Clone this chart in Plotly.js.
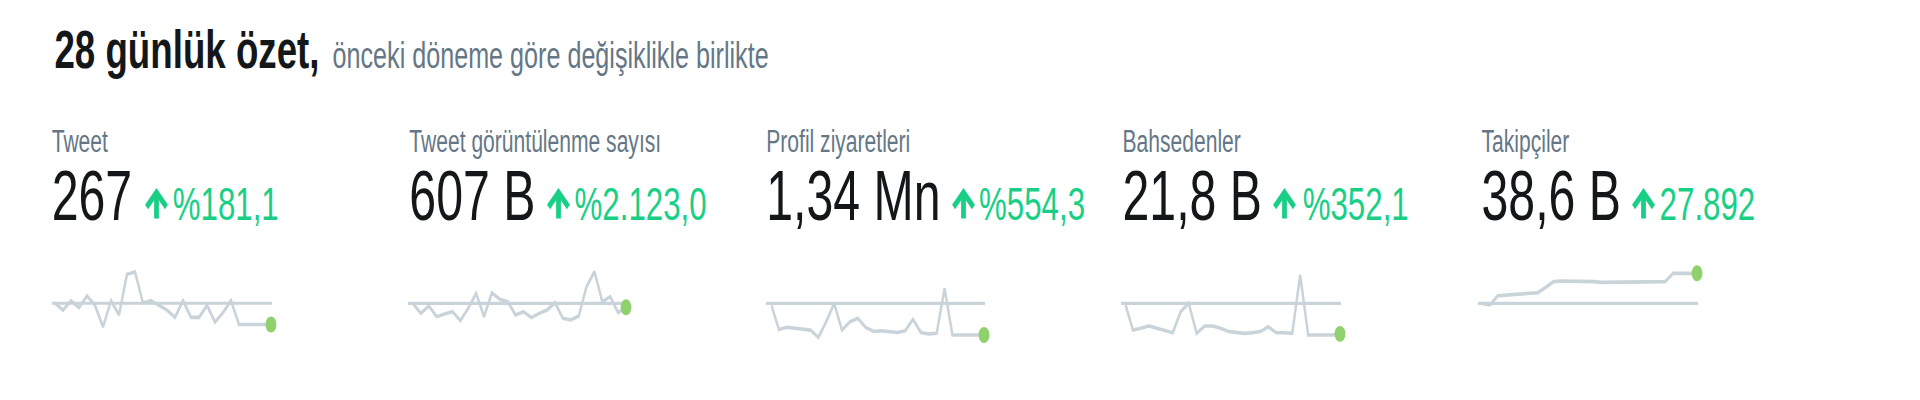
<!DOCTYPE html>
<html><head><meta charset="utf-8">
<script src="https://cdn.plot.ly/plotly-3.0.1.min.js"></script>
<style>
html,body{margin:0;padding:0;background:#fff;overflow:hidden;width:1920px;height:400px}
#chart{width:2824px;height:400px;transform:scaleX(0.67989);transform-origin:0 0}
</style>
</head><body><div id="chart"></div>
<script>
// ---- data ----
const titleMain = '28 günlük özet,';
const titleSub = 'önceki döneme göre değişiklikle birlikte';
const labels = ['Tweet', 'Tweet görüntülenme sayısı', 'Profil ziyaretleri', 'Bahsedenler', 'Takipçiler'];
const totals = ['267', '607 B', '1,34 Mn', '21,8 B', '38,6 B'];
const changes = ['%181,1', '%2.123,0', '%554,3', '%352,1', '27.892'];
const days = [1,2,3,4,5,6,7,8,9,10,11,12,13,14,15,16,17,18,19,20,21,22,23,24,25,26,27,28];
const tweets = [12,9,13,10,15,11,2,13,7,24,25,12,13,11,9,6,13,6,6,11,4,8,13,3,3,3,3,3];
const views = [24.3,16.5,22.6,13.8,16.0,17.9,10.5,20.7,33.1,13.8,33.6,28.1,26.2,15.2,17.9,13.0,16.5,19.3,25.4,12.4,11.0,14.3,38.6,51.0,26.2,30.3,17.1,21.5]; // bin
const profile = [113,40,46,43,40,38,17,62,115,38,62,72,46,34,36,34,31,36,69,31,27,29,158,24,24,24,24,24]; // bin
const mentions = [1980,600,690,810,690,570,460,1550,1980,430,810,810,690,520,460,430,460,520,770,460,460,430,3440,340,340,340,340,400];
const followers = [10.7,9.2,17.8,18.5,19.1,20.0,20.6,20.6,25.6,30.9,31.5,31.5,31.5,31.2,30.9,30.2,30.2,30.2,30.2,30.2,30.2,30.2,30.2,30.9,38.6,38.6,38.6,38.6]; // bin
const baselines = [11.9, 24.8, 115, 1976, 10.7];
const series = [tweets, views, profile, mentions, followers];

// ---- style / layout ----
const W = 1920; const H = 400;
const px = v => v / W; const py = v => 1 - v / H;
const labelX = [50, 408, 765, 1121, 1480];
const arrowX = [156.5, 558.5, 963.5, 1284.5, 1643.5];
const changeX = [171, 573, 978, 1301, 1658];
const sparkX = [[55,271],[413,626],[771,984],[1125,1340],[1482,1697]];
const baseLineX = [[52,272],[408,630],[766,985],[1121,1341],[1478,1698]];
const yRanges = [[-5.57,32.1],[-9.68,64.8],[-4.9,254.3],[-171.6,4467],[-28.05,55.65]];
const font = 'Liberation Sans, Arial, Helvetica, sans-serif';
const lineColor = '#c9d3da';
const green = '#19cf86';
const dotGreen = '#8fd16c';

const traces = [];
const annotations = [];
const shapes = [];
const layout = {
  width: 2824, height: 400, margin: {l:0, r:0, t:0, b:0},
  paper_bgcolor: '#ffffff', plot_bgcolor: 'rgba(0,0,0,0)', showlegend: false,
  annotations, shapes
};

annotations.push({xref:'paper', yref:'paper', x: px(53), y: py(68 - 0.35*54), xanchor:'left', yanchor:'middle',
  text: '<b>' + titleMain + '</b>', showarrow:false, font:{family:font, size:54, color:'#14171a'}});
annotations.push({xref:'paper', yref:'paper', x: px(331), y: py(68 - 0.35*37), xanchor:'left', yanchor:'middle',
  text: titleSub, showarrow:false, font:{family:font, size:37, color:'#657786'}});

for (let i = 0; i < 5; i++) {
  const sx = i === 0 ? '' : String(i + 1);
  layout['xaxis' + sx] = {domain:[px(sparkX[i][0]), px(sparkX[i][1])], range:[days[0], days[days.length-1]],
    visible:false, fixedrange:true, anchor:'y' + sx};
  layout['yaxis' + sx] = {domain:[py(345), py(255)], range:yRanges[i], visible:false, fixedrange:true, anchor:'x' + sx};
  shapes.push({type:'line', layer:'below', xref:'paper', yref:'y' + sx,
    x0: px(baseLineX[i][0]), x1: px(baseLineX[i][1]), y0: baselines[i], y1: baselines[i],
    line:{color:lineColor, width:3.2}});
  traces.push({type:'scatter', mode:'lines', x: days, y: series[i], xaxis:'x' + sx, yaxis:'y' + sx,
    line:{color:lineColor, width:3.6, shape:'linear'}, cliponaxis:false, hoverinfo:'skip'});
  traces.push({type:'scatter', mode:'markers', x:[days[days.length-1]], y:[series[i][series[i].length-1]],
    xaxis:'x' + sx, yaxis:'y' + sx, marker:{color:dotGreen, size:16}, cliponaxis:false, hoverinfo:'skip'});

  annotations.push({xref:'paper', yref:'paper', x: px(labelX[i]), y: py(152 - 0.35*31), xanchor:'left', yanchor:'middle',
    text: labels[i], showarrow:false, font:{family:font, size:31, color:'#657786'}});
  annotations.push({xref:'paper', yref:'paper', x: px(labelX[i]), y: py(220 - 0.35*71), xanchor:'left', yanchor:'middle',
    text: totals[i], showarrow:false, font:{family:font, size:71, color:'#14171a'}});
  // up arrow icon
  annotations.push({xref:'paper', yref:'paper', x: px(arrowX[i]), y: py(188), text:'', showarrow:true,
    ax:0, ay:32, arrowhead:4, arrowsize:0.8, arrowwidth:7, arrowcolor:green, standoff:0, startstandoff:0});
  annotations.push({xref:'paper', yref:'paper', x: px(changeX[i]), y: py(220 - 0.35*46), xanchor:'left', yanchor:'middle',
    text: changes[i], showarrow:false, font:{family:font, size:46, color:green}});
}

Plotly.newPlot('chart', traces, layout, {staticPlot:true, displayModeBar:false});
</script>
</body></html>
